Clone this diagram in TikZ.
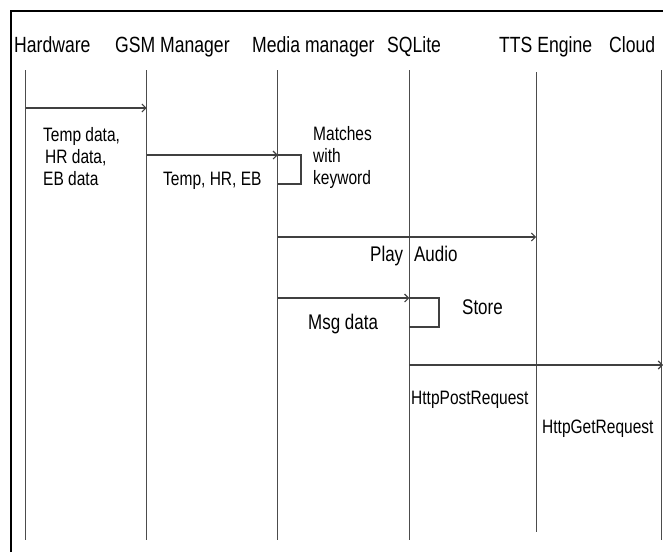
\documentclass[tikz,border=0pt]{standalone}
\usepackage{fontspec}
\setmainfont{Liberation Sans}[FakeStretch=0.8]
\usetikzlibrary{arrows.meta}

\tikzset{
  head/.style={anchor=base west, inner sep=0pt, font=\fontsize{22}{24}\selectfont},
  lbl/.style={anchor=base west, inner sep=0pt, font=\fontsize{19.4}{22}\selectfont},
  lblml/.style={anchor=north west, inner sep=0pt, align=left, font=\fontsize{19.4}{22}\selectfont},
  lblbig/.style={anchor=base west, inner sep=0pt, font=\fontsize{21.2}{24}\selectfont},
  life/.style={draw=black!70, line width=0.9pt},
  msg/.style={draw=black!75, line width=1.1pt, -{Straight Barb[length=4pt,width=8pt]}},
  selfcall/.style={draw=black!75, line width=1.1pt},
}

\begin{document}
\begin{tikzpicture}[x=1pt, y=-1pt]
  \useasboundingbox (0,0) rectangle (663,552);

  % frame (runs off the page on the right and at the bottom)
  \draw[line width=2pt] (11,552) -- (11,11) -- (663,11);

  % participants
  \node[head] (hwname)    at (14,52)  {Hardware};
  \node[head] (gsmname)   at (115,52) {GSM Manager};
  \node[head] (medianame) at (252,52) {Media manager};
  \node[head] (sqlname)   at (387,52) {SQLite};
  \node[head] (ttsname)   at (499,52) {TTS Engine};
  \node[head] (cloudname) at (609,52) {Cloud};

  % lifelines
  \coordinate (hw)    at (25.5,70);
  \coordinate (gsm)   at (146.7,70);
  \coordinate (media) at (277.8,70);
  \coordinate (sql)   at (409.3,70);
  \coordinate (tts)   at (536.2,72);
  \coordinate (cloud) at (661.7,70);
  \foreach \p in {hw,gsm,media,sql,cloud}
    \draw[life] (\p) -- (\p |- 0,540);
  \draw[life] (tts) -- (tts |- 0,532);

  % messages
  \draw[msg] (hw |- 0,108) -- (gsm |- 0,108);
  \draw[msg] (gsm |- 0,155) -- (media |- 0,155);
  \draw[selfcall] (media |- 0,155) -| (301,184) -- (media |- 0,184);
  \draw[msg] (media |- 0,237) -- (tts |- 0,237);
  \draw[msg] (media |- 0,298) -- (sql |- 0,298);
  \draw[selfcall] (sql |- 0,298) -| (439,327) -- (sql |- 0,327);
  \draw[msg] (sql |- 0,365) -- (663,365);

  % message texts
  \node[lblml] (sensordata) at (43,127.5) {Temp data,\\\hspace{2pt}HR data,\\EB data};
  \node[lbl] (vitals) at (163,185) {Temp, HR, EB};
  \node[lblml] (keymatch) at (313,126.5) {Matches\\with\\keyword};
  \node[lblbig] (play) at (370,261) {Play\hspace{11pt}Audio};
  \node[lblbig] (store) at (462,314) {Store};
  \node[lblbig] (msgdata) at (308,329) {Msg data};
  \node[lbl] (post) at (411,404) {HttpPostRequest};
  \node[lbl] (get) at (542,433) {HttpGetRequest};
\end{tikzpicture}
\end{document}
